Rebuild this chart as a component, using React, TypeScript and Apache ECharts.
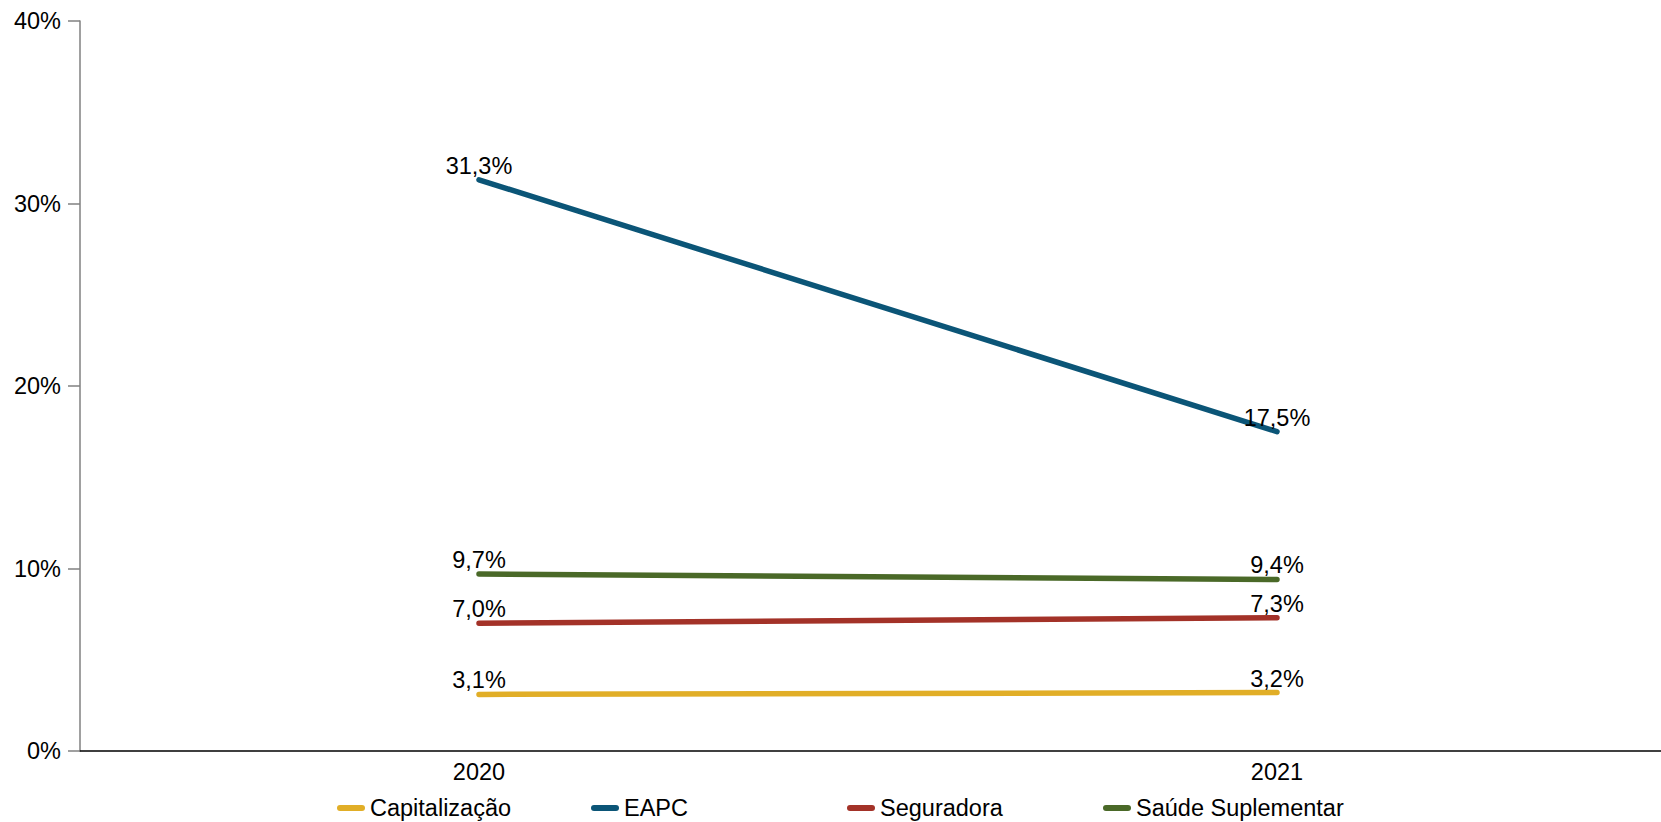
import React, { useEffect, useRef } from "react";
import * as echarts from "echarts";

const categories = ["2020", "2021"];
const seriesNames = ["Capitalização", "EAPC", "Seguradora", "Saúde Suplementar"];
const capitalizacao = [3.1, 3.2];
const eapc = [31.3, 17.5];
const seguradora = [7.0, 7.3];
const saude = [9.7, 9.4];
const colors = ["#E1AE27", "#0B5577", "#A33228", "#4A6928"];
const yTicks = [0, 10, 20, 30, 40];

const FONT = "Liberation Sans, Arial, sans-serif";
const FS = 23.5;

export default function App() {
  const ref = useRef<HTMLDivElement>(null);
  useEffect(() => {
    if (!ref.current) return;
    const chart = echarts.init(ref.current, null, { renderer: "svg" });
    const dataSets = [capitalizacao, eapc, seguradora, saude];
    const legendLefts = [337, 591, 847, 1103];
    chart.setOption({
      animation: false,
      textStyle: { fontFamily: FONT },
      grid: { left: 80, right: -15, top: 21, bottom: 71, outerBoundsMode: "none" },
      legend: seriesNames.map((name, i) => ({
        left: legendLefts[i],
        top: 796,
        padding: 0,
        itemWidth: 28,
        itemHeight: 6,
        icon: "path://M3,0 L25,0 A3,3 0 0 1 25,6 L3,6 A3,3 0 0 1 3,0 Z",
        data: [name],
        textStyle: { fontSize: FS, color: "#000", fontFamily: FONT },
      })),
      xAxis: {
        type: "category",
        data: categories,
        boundaryGap: true,
        axisLine: { lineStyle: { color: "#000", width: 1.5 } },
        axisTick: { show: false },
        axisLabel: { fontSize: FS, color: "#000", margin: 9, fontFamily: FONT },
      },
      yAxis: {
        type: "value",
        min: yTicks[0],
        max: yTicks[yTicks.length - 1],
        interval: 10,
        splitLine: { show: false },
        axisLine: { show: true, lineStyle: { color: "#808080", width: 1.5 } },
        axisTick: { show: true, length: 12, lineStyle: { color: "#808080", width: 1.5 } },
        axisLabel: {
          fontSize: FS,
          color: "#000",
          margin: 19,
          fontFamily: FONT,
          formatter: (v: number) => `${v}%`,
        },
      },
      series: seriesNames.map((name, i) => ({
        name,
        type: "line",
        data: dataSets[i],
        symbol: "circle",
        symbolSize: 2,
        showSymbol: true,
        color: colors[i],
        itemStyle: { color: colors[i] },
        lineStyle: { width: 5.5, color: colors[i], cap: "round" },
        label: {
          show: true,
          position: "top",
          distance: 1,
          fontSize: FS,
          color: "#000",
          fontFamily: FONT,
          formatter: (p: any) => `${Number(p.value).toFixed(1).replace(".", ",")}%`,
        },
      })),
    });
    return () => chart.dispose();
  }, []);
  return (
    <div
      ref={ref}
      style={{ position: "absolute", left: 0, top: 0, width: 1661, height: 822 }}
    />
  );
}
